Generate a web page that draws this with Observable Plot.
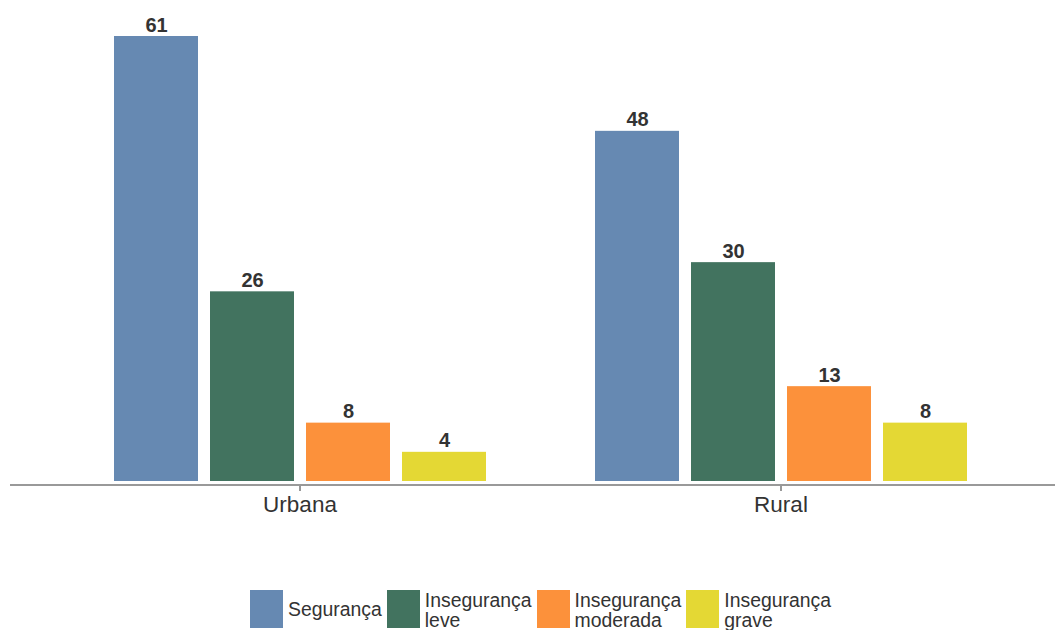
<!DOCTYPE html>
<html>
<head>
<meta charset="utf-8">
<script src="https://cdn.jsdelivr.net/npm/d3@7"></script>
<script src="https://cdn.jsdelivr.net/npm/@observablehq/plot@0.6"></script>
<style>
  html, body { margin: 0; padding: 0; background: #fff; }
  body { width: 1056px; height: 630px; position: relative; overflow: hidden; font-family: "Liberation Sans", Arial, sans-serif; }
  #legend { position: absolute; left: 250px; top: 590px; display: flex; align-items: flex-start; }
  .item { display: flex; align-items: flex-start; margin-right: 5px; }
  .sw { width: 33px; height: 38px; margin-right: 5px; flex: none; }
  .lab { font-size: 19.4px; color: #333; line-height: 20px; }
  .lab.single { padding-top: 9px; }
</style>
</head>
<body>
<div id="chart"></div>
<div id="legend"></div>
<script>
const groups = ["Urbana", "Rural"];
const series = ["Segurança", "Insegurança leve", "Insegurança moderada", "Insegurança grave"];
const legendLines = [["Segurança"], ["Insegurança", "leve"], ["Insegurança", "moderada"], ["Insegurança", "grave"]];
const colors = ["#6689b2", "#42735f", "#fc913b", "#e4d834"];
const urbanaValues = [61, 26, 8, 4];
const ruralValues = [48, 30, 13, 8];

const data = [];
series.forEach((s, i) => {
  data.push({group: "Urbana", series: s, value: urbanaValues[i]});
  data.push({group: "Rural", series: s, value: ruralValues[i]});
});

const H = 560;
const plot = Plot.plot({
  width: 1056,
  height: H,
  marginLeft: 10,
  marginRight: 0,
  marginTop: 36,
  marginBottom: H - 481,
  style: {fontFamily: "Liberation Sans, Arial, sans-serif", background: "#fff"},
  fx: {domain: groups, paddingInner: 0, paddingOuter: 0.0862, align: 0.587, label: null, axis: null},
  x: {domain: series, paddingInner: 0.125, paddingOuter: 0.5636, axis: null},
  y: {domain: [0, 61], axis: null},
  color: {domain: series, range: colors},
  marks: [
    Plot.barY(data, {fx: "group", x: "series", y: "value", fill: "series"}),
    Plot.text(data, {fx: "group", x: "series", y: "value", text: d => String(d.value), dy: -5, lineAnchor: "bottom", fontSize: 20, fontWeight: "bold", fill: "#333"}),
    Plot.ruleY([0], {stroke: "#999", strokeWidth: 2, dy: 3.5, shapeRendering: "crispEdges", insetLeft: -48.75, insetRight: -34.25}),
    Plot.axisFx({anchor: "bottom", tickSize: 6, tickPadding: 5, dy: 4, fontSize: 22.5, color: "#333", stroke: "#999", strokeWidth: 2, label: null})
  ]
});
document.getElementById("chart").appendChild(plot);

const color = plot.scale("color");
const legend = document.getElementById("legend");
series.forEach((s, i) => {
  const item = document.createElement("div");
  item.className = "item";
  const sw = document.createElement("div");
  sw.className = "sw";
  sw.style.background = color.apply(s);
  const lab = document.createElement("div");
  lab.className = "lab" + (legendLines[i].length === 1 ? " single" : "");
  lab.innerHTML = legendLines[i].join("<br>");
  item.appendChild(sw);
  item.appendChild(lab);
  legend.appendChild(item);
});
</script>
</body>
</html>
